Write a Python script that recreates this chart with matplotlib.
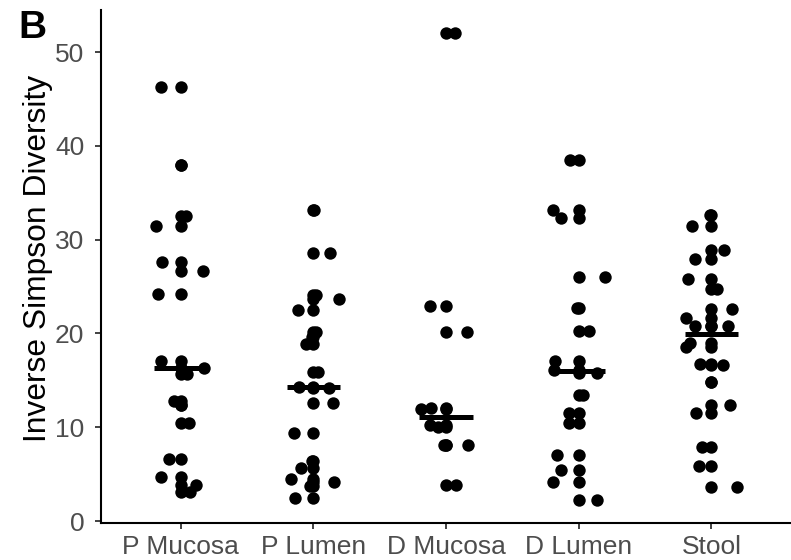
import numpy as np
import matplotlib
matplotlib.use("Agg")
import matplotlib.pyplot as plt

plt.rcParams['font.family'] = ['Liberation Sans', 'DejaVu Sans']

# ---- data ----
categories = ["P Mucosa", "P Lumen", "D Mucosa", "D Lumen", "Stool"]
p_mucosa = [46.3, 38.0, 32.5, 31.4, 27.6, 26.7, 24.2, 17.1, 16.3, 15.7,
            12.8, 12.4, 10.5, 6.6, 4.7, 3.8, 3.1]
p_lumen = [33.2, 28.6, 24.1, 23.7, 22.5, 20.1, 19.6, 18.9, 15.9, 14.25,
           14.2, 12.6, 9.4, 6.4, 5.7, 4.5, 4.2, 3.7, 2.5]
d_mucosa = [52.0, 22.95, 20.1, 12.05, 11.95, 10.2, 10.0, 8.15, 8.1, 3.85]
d_lumen = [38.5, 33.2, 32.3, 26.0, 22.7, 20.3, 17.1, 16.1, 15.8, 13.4,
           11.5, 10.4, 7.0, 5.4, 4.2, 2.2]
stool = [32.6, 31.5, 28.9, 27.9, 25.8, 24.7, 22.6, 21.6, 20.8, 20.8,
         19.0, 18.6, 16.7, 16.6, 14.85, 12.4, 11.5, 7.9, 5.9, 3.6]
groups = [p_mucosa, p_lumen, d_mucosa, d_lumen, stool]
y_ticks = [0, 10, 20, 30, 40, 50]
y_label = "Inverse Simpson Diversity"
panel_tag = "B"

# ---- figure ----
W, H = 791, 560
fig = plt.figure(figsize=(W / 100, H / 100), dpi=100)
left, right = 101 / W, 1.0
bottom, top = 1 - 522.8 / H, 1 - 9.8 / H
ax = fig.add_axes([left, bottom, right - left, top - bottom])

rng = np.random.default_rng(11)
dot_size = 80
for i, vals in enumerate(groups):
    pos = i + 1
    v = np.asarray(vals)
    x = np.full(v.size, pos, dtype=float)
    # points at the group centre
    ax.scatter(x, v, s=dot_size, c="black", linewidths=0, zorder=3)
    # jittered copy (geom_jitter, width 0.2, height 0)
    jit = rng.uniform(-0.2, 0.2, v.size)
    ax.scatter(x + jit, v, s=dot_size, c="black", linewidths=0, zorder=3)
    # median bar
    med = np.median(v)
    ax.hlines(med, pos - 0.2, pos + 0.2, colors="black", linewidth=3.6,
              zorder=4)

ax.set_xlim(0.4, 5.6)
ax.set_ylim(-0.19, 54.5)
ax.set_xticks(range(1, len(categories) + 1))
ax.set_xticklabels(categories)
ax.set_yticks(y_ticks)

for s in ["top", "right"]:
    ax.spines[s].set_visible(False)
for s in ["left", "bottom"]:
    ax.spines[s].set_linewidth(1.5)
    ax.spines[s].set_color("black")

ax.tick_params(axis="both", length=4.5, width=1.3, color="#333333",
               labelcolor="#4D4D4D", labelsize=19)
ax.tick_params(axis="x", pad=4.5)
ax.tick_params(axis="y", pad=7.5)

ax.set_ylabel(y_label, fontsize=22.9, color="black")
ax.yaxis.set_label_coords(-0.07, 0.515)

fig.text(18 / W, 1 - 10 / H, panel_tag, fontsize=28, fontweight="bold",
         ha="left", va="top")

fig.savefig("out.png", dpi=100)
